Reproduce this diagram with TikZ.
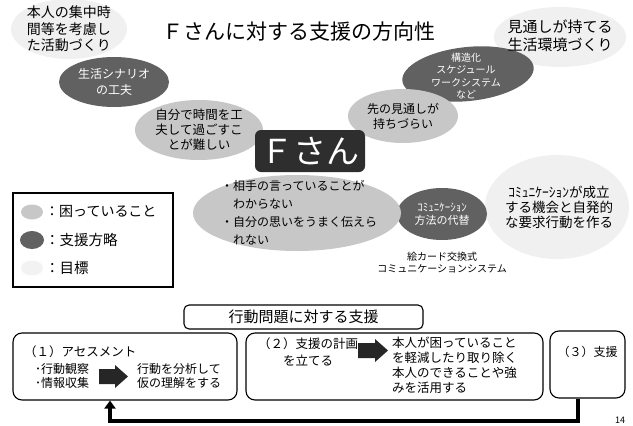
\documentclass[tikz,border=0pt]{standalone}
\usepackage{fontspec}
\setmainfont{Noto Sans CJK JP}
\usetikzlibrary{arrows.meta,shapes.geometric}
\newcommand\fsz[2]{\fontsize{#1pt}{#2pt}\selectfont}
\begin{document}
\begin{tikzpicture}[x=1pt,y=-1pt,
  blob/.style={ellipse, inner sep=0pt, align=center},
  darkblob/.style={blob, fill=black!62, text=white},
  lightblob/.style={blob, fill=black!22, text=black},
  goalblob/.style={blob, fill=black!6},
  txt/.style={inner sep=0pt, align=center},
  rbox/.style={draw=black, line width=1.1pt, rounded corners=9pt},
  blockarrow/.style={fill=black!85},
]
\useasboundingbox (0,0) rectangle (633,426);
\fill[white] (0,0) rectangle (633,426);

% title
\node[txt, font=\fsz{21}{24}] (title) at (299,32) {Ｆさんに対する支援の方向性};

% goal clouds
\node[goalblob, minimum width=116pt, minimum height=60pt] (g1) at (69,29) {};
\node[goalblob, minimum width=132pt, minimum height=60pt] (g2) at (560,37) {};
\node[goalblob, minimum width=144pt, minimum height=104pt] (g3) at (557,207) {};

% strategies
\node[darkblob, minimum width=110pt, minimum height=50pt, font=\fsz{12}{16}] (d1) at (114,82) {生活シナリオ\\の工夫};
\node[darkblob, rotate=6, minimum width=132pt, minimum height=54pt] (d2) at (468,74) {};
\node[txt, text=white, font=\fsz{10}{12.5}] (d2t) at (466,76) {構造化\\スケジュール\\ワークシステム\\など};
\node[darkblob, minimum width=90pt, minimum height=52pt, font=\fsz{11}{13}] (d3) at (442,214) {ｺﾐｭﾆｹｰｼｮﾝ\\方法の代替};
\node[txt, font=\fsz{10}{12}] (d3l) at (442,263) {絵カード交換式\\コミュニケーションシステム};

% goal texts
\node[txt, font=\fsz{14}{16.5}] (g1t) at (69,29) {本人の集中時\\間等を考慮し\\た活動づくり};
\node[txt, font=\fsz{15}{18}] (g2t) at (560,36) {見通しが持てる\\生活環境づくり};
\node[txt, font=\fsz{13.5}{15}] (g3t) at (559,207) {ｺﾐｭﾆｹｰｼｮﾝが成立\\する機会と自発的\\な要求行動を作る};

% difficulties
\node[lightblob, minimum width=128pt, minimum height=60pt, font=\fsz{12.5}{15}] (l1) at (199,130) {自分で時間を工\\夫して過ごすこ\\とが難しい};
\node[lightblob, minimum width=110pt, minimum height=54pt, font=\fsz{12}{15}] (l2) at (403,116) {先の見通しが\\持ちづらい};
\node[lightblob, minimum width=208pt, minimum height=76pt] (l3) at (297,213) {};
\node[inner sep=0pt, anchor=west, align=left, font=\fsz{12}{18}] (l3t) at (221,213) {・相手の言っていることが\\\hspace*{1em}わからない\\・自分の思いをうまく伝えら\\\hspace*{1em}れない};

% F
\node[fill=black!82, rounded corners=6pt, minimum width=110pt, minimum height=42pt, text=white, font=\fsz{33}{36}, inner sep=0pt] (F) at (310,151) {Ｆさん};

% legend
\node[draw=black, line width=1.2pt, minimum width=160pt, minimum height=94pt] (leg) at (93,240) {};
\node[ellipse, fill=black!22, minimum width=22pt, minimum height=15pt, inner sep=0pt] (lc1) at (32,212) {};
\node[ellipse, fill=black!62, minimum width=24pt, minimum height=18pt, inner sep=0pt] (lc2) at (32,240) {};
\node[ellipse, fill=black!5, minimum width=22pt, minimum height=15pt, inner sep=0pt] (lc3) at (32,268) {};
\node[anchor=west, inner sep=0pt, font=\fsz{14}{16}] (lt1) at (45,212) {：困っていること};
\node[anchor=west, inner sep=0pt, font=\fsz{14.5}{16}] (lt2) at (45,240) {：支援方略};
\node[anchor=west, inner sep=0pt, font=\fsz{14.5}{16}] (lt3) at (45,268) {：目標};

% bottom section
\node[rbox, rounded corners=5pt, minimum width=239pt, minimum height=24pt, font=\fsz{15}{17}] (hdr) at (303.5,317) {行動問題に対する支援};

\node[rbox, minimum width=224pt, minimum height=67pt] (b1) at (125,366.5) {};
\node[anchor=west, inner sep=0pt, font=\fsz{12.5}{14}] (b1a) at (24,352) {（１）アセスメント};
\node[anchor=west, inner sep=0pt, align=left, font=\fsz{12}{14.5}] (b1b) at (35,376) {･行動観察\\･情報収集};
\node[anchor=west, inner sep=0pt, align=left, font=\fsz{12}{14.5}] (b1c) at (137,376) {行動を分析して\\仮の理解をする};
\fill[blockarrow] (99,369) -- (115,369) -- (115,365) -- (128,376.5) -- (115,388) -- (115,384) -- (99,384) -- cycle;

\node[rbox, minimum width=297pt, minimum height=67pt] (b2) at (394.5,366.5) {};
\node[txt, font=\fsz{12.5}{17}] (b2a) at (308,351.5) {（２）支援の計画\\を立てる};
\fill[blockarrow] (358,343) -- (375,343) -- (375,339) -- (388,350.5) -- (375,362) -- (375,358) -- (358,358) -- cycle;
\node[anchor=west, inner sep=0pt, align=left, font=\fsz{12.5}{15}] (b2c) at (392,365.5) {本人が困っていること\\を軽減したり取り除く\\本人のできることや強\\みを活用する};

\node[rbox, minimum width=75pt, minimum height=67pt] (b3) at (587.5,364.5) {};
\node[txt, font=\fsz{12}{14}] (b3t) at (587.5,352) {（３）支援};

% feedback connector
\coordinate (fbR) at (578,421);
\coordinate (fbL) at (110,421);
\draw[line width=4pt, line join=miter, -{Triangle[length=8pt,width=11pt]}] (b3.south -| fbR) -- (fbR) -- (fbL) -- (b1.south -| fbL);

\node[txt, font=\fsz{9}{10}] (pg) at (620,420) {14};
\end{tikzpicture}
\end{document}
